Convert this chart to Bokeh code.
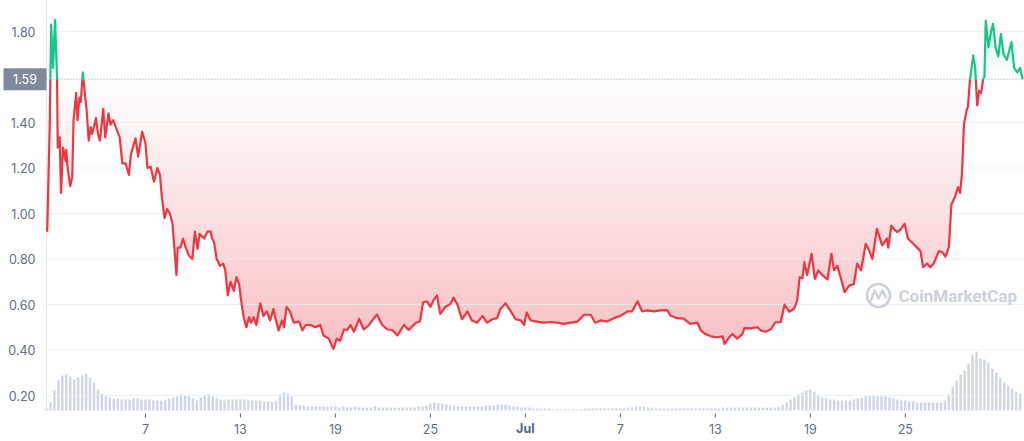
import numpy as np
import pandas as pd
from bokeh.plotting import figure
from bokeh.models import Range1d, Label
from bokeh.core.properties import value
from bokeh.embed import file_html
from bokeh.resources import INLINE

# ---------------- data ----------------
START = "2021-05-31 18:00"

price_hours = [
    1, 5, 7, 10, 13, 16, 17, 20, 22, 25, 29, 30, 32, 36, 39, 41, 45, 47, 50, 52,
    55, 58, 61, 64, 67, 69, 72, 75, 78, 81, 86, 89, 94, 97, 101, 105, 111, 115, 120, 125,
    128, 135, 139, 145, 150, 153, 158, 163, 168, 172, 175, 179, 183, 187, 191, 194, 197, 199, 203, 207,
    211, 216, 221, 225, 229, 232, 239, 244, 249, 251, 254, 258, 263, 268, 271, 275, 279, 284, 288, 292,
    296, 299, 303, 307, 310, 314, 318, 324, 329, 334, 339, 344, 347, 352, 357, 360, 364, 369, 375, 383,
    388, 393, 400, 408, 415, 420, 428, 435, 440, 445, 451, 456, 461, 466, 474, 481, 489, 494, 501, 509,
    517, 524, 532, 542, 549, 560, 566, 571, 577, 582, 587, 592, 597, 605, 613, 617, 623, 630, 638, 645,
    653, 661, 668, 676, 683, 688, 696, 704, 711, 719, 724, 728, 734, 744, 754, 764, 774, 784, 795, 805,
    815, 825, 832, 840, 850, 860, 870, 881, 888, 896, 903, 911, 921, 931, 941, 946, 956, 966, 976, 987,
    992, 999, 1007, 1017, 1025, 1028, 1035, 1040, 1047, 1055, 1058, 1067, 1078, 1083, 1090, 1098, 1105, 1113, 1119, 1126,
    1133, 1138, 1142, 1146, 1149, 1153, 1160, 1165, 1170, 1176, 1184, 1190, 1194, 1199, 1204, 1210, 1217, 1224, 1229, 1235,
    1242, 1247, 1252, 1259, 1267, 1274, 1276, 1281, 1285, 1290, 1295, 1301, 1306, 1313, 1320, 1325, 1329, 1335, 1340, 1345,
    1353, 1358, 1363, 1368, 1372, 1377, 1382, 1385, 1388, 1391, 1395, 1397, 1400, 1402, 1405, 1408, 1411, 1414, 1417, 1420,
    1422, 1424, 1428, 1432, 1435, 1439, 1443, 1447, 1451, 1456, 1463, 1467, 1472, 1476, 1480,
]

price_values = [
    0.92, 1.40, 1.83, 1.64, 1.85, 1.60, 1.29, 1.335, 1.09, 1.29, 1.23, 1.28, 1.20, 1.12, 1.16, 1.41, 1.53, 1.41, 1.51, 1.49,
    1.62, 1.53, 1.45, 1.32, 1.38, 1.35, 1.38, 1.42, 1.35, 1.32, 1.46, 1.335, 1.44, 1.39, 1.41, 1.38, 1.335, 1.22, 1.22, 1.17,
    1.26, 1.33, 1.25, 1.36, 1.31, 1.20, 1.205, 1.14, 1.20, 1.17, 1.07, 0.98, 1.02, 1.00, 0.955, 0.845, 0.73, 0.85, 0.85, 0.89,
    0.85, 0.815, 0.80, 0.92, 0.845, 0.91, 0.89, 0.92, 0.92, 0.89, 0.875, 0.80, 0.77, 0.78, 0.75, 0.64, 0.70, 0.66, 0.72, 0.69,
    0.60, 0.544, 0.50, 0.544, 0.52, 0.544, 0.51, 0.605, 0.55, 0.57, 0.53, 0.58, 0.54, 0.486, 0.53, 0.50, 0.59, 0.57, 0.52, 0.525,
    0.486, 0.51, 0.51, 0.50, 0.51, 0.464, 0.45, 0.405, 0.45, 0.44, 0.49, 0.488, 0.51, 0.48, 0.537, 0.49, 0.51, 0.53, 0.556, 0.51,
    0.49, 0.488, 0.464, 0.51, 0.488, 0.52, 0.525, 0.61, 0.614, 0.59, 0.62, 0.64, 0.559, 0.59, 0.604, 0.63, 0.60, 0.535, 0.57, 0.53,
    0.52, 0.55, 0.52, 0.535, 0.54, 0.58, 0.605, 0.57, 0.535, 0.53, 0.51, 0.565, 0.53, 0.525, 0.52, 0.523, 0.52, 0.515, 0.52, 0.525,
    0.555, 0.555, 0.52, 0.53, 0.525, 0.54, 0.55, 0.57, 0.57, 0.614, 0.57, 0.574, 0.57, 0.574, 0.575, 0.552, 0.54, 0.538, 0.515, 0.52,
    0.486, 0.47, 0.46, 0.456, 0.46, 0.427, 0.456, 0.47, 0.45, 0.47, 0.496, 0.495, 0.50, 0.486, 0.48, 0.49, 0.522, 0.522, 0.60, 0.568,
    0.58, 0.617, 0.72, 0.715, 0.786, 0.73, 0.823, 0.713, 0.75, 0.73, 0.71, 0.823, 0.75, 0.77, 0.72, 0.654, 0.683, 0.69, 0.78, 0.75,
    0.867, 0.84, 0.80, 0.933, 0.86, 0.89, 0.85, 0.947, 0.93, 0.918, 0.93, 0.955, 0.89, 0.87, 0.85, 0.835, 0.764, 0.78, 0.764, 0.78,
    0.835, 0.83, 0.81, 0.852, 1.04, 1.07, 1.116, 1.09, 1.175, 1.394, 1.453, 1.47, 1.585, 1.629, 1.695, 1.64, 1.475, 1.54, 1.53, 1.59,
    1.60, 1.848, 1.73, 1.80, 1.834, 1.73, 1.69, 1.79, 1.70, 1.675, 1.753, 1.64, 1.62, 1.64, 1.59,
]

# 6-hourly volume bars (millions USD), first bar at START
VOLUME_STEP_H = 6
volume_values = [
    2, 8, 20, 30, 35, 36, 34, 31, 33, 35,
    37, 33, 28, 21, 17, 14, 13, 12, 12, 11,
    11, 11, 12, 12, 11, 11, 11, 10, 10, 10,
    11, 12, 13, 14, 16, 15, 14, 12, 10, 13,
    15, 16, 14, 12, 11, 10, 11, 11, 11, 11,
    11, 10, 10, 10, 10, 9, 9, 9, 10, 16,
    18, 17, 14, 6, 5, 5, 4, 4, 4, 4,
    4, 4, 4, 4, 3, 4, 3, 3, 4, 3,
    3, 3, 3, 4, 3, 3, 3, 3, 3, 3,
    3, 3, 3, 3, 4, 4, 5, 7, 8, 7,
    7, 6, 5, 5, 4, 4, 4, 4, 4, 4,
    4, 5, 5, 5, 6, 6, 6, 5, 4, 4,
    3, 3, 3, 2, 2, 2, 2, 2, 1, 1,
    1, 1, 1, 1, 1, 1, 2, 2, 2, 2,
    2, 2, 2, 2, 2, 2, 2, 3, 3, 4,
    4, 4, 3, 3, 2, 2, 2, 2, 2, 2,
    2, 2, 2, 2, 2, 2, 2, 2, 2, 2,
    2, 3, 3, 3, 3, 3, 3, 3, 3, 3,
    3, 3, 3, 3, 3, 4, 6, 8, 11, 13,
    16, 18, 20, 21, 19, 15, 13, 12, 11, 11,
    10, 10, 10, 10, 11, 12, 13, 15, 15, 15,
    14, 14, 14, 13, 12, 11, 10, 10, 9, 9,
    8, 8, 8, 8, 8, 8, 8, 10, 16, 24,
    30, 36, 40, 47, 56, 59, 52, 51, 48, 42,
    38, 33, 28, 25, 22, 19, 17,
]

baseline_price = 1.59
tick_dates = ["2021-06-07", "2021-06-13", "2021-06-19", "2021-06-25", "2021-07-01",
              "2021-07-07", "2021-07-13", "2021-07-19", "2021-07-25"]
tick_labels = ["7", "13", "19", "25", "Jul", "7", "13", "19", "25"]
y_ticks = [0.2, 0.4, 0.6, 0.8, 1.0, 1.2, 1.4, 1.8]
y_tick_labels = ["0.20", "0.40", "0.60", "0.80", "1.00", "1.20", "1.40", "1.80"]

# ---------------- layout constants ----------------
W, H = 1024, 441            # canvas (frame covers the whole canvas)
AXIS_X = 46                 # px from canvas left where the price axis sits
PX_PER_H = 15.83 / 24       # horizontal scale
VOL_BASE = 31               # px from canvas bottom where volume bars start
PX_PER_UNIT = 227.5         # vertical scale (px per 1.00 of price)
Y_TOP_PX = 31               # 1.80 grid line, px from top
Y_LO = 1.80 - (H - Y_TOP_PX) / PX_PER_UNIT
Y_HI = 1.80 + Y_TOP_PX / PX_PER_UNIT

HOUR_MS = 3600 * 1000.0
start_ms = pd.Timestamp(START).value / 1e6
x_lo = start_ms - AXIS_X / PX_PER_H * HOUR_MS
x_hi = start_ms + (W - AXIS_X) / PX_PER_H * HOUR_MS
data_end = start_ms + max(price_hours) * HOUR_MS


def to_ms(hours):
    return start_ms + np.asarray(hours, dtype=float) * HOUR_MS


def mix(hex_color, a):
    r, g, b = (int(hex_color[i:i + 2], 16) for i in (1, 3, 5))
    return "#%02x%02x%02x" % tuple(round(255 - a * (255 - c)) for c in (r, g, b))


px = to_ms(price_hours)
py = np.asarray(price_values, dtype=float)

# split the price line into runs above / below the baseline (with crossing points)
runs = []
cx, cy = [px[0]], [py[0]]
cur_above = py[0] >= baseline_price
ext_x, ext_y = [px[0]], [py[0]]
for i in range(1, len(px)):
    x0, y0, x1, y1 = px[i - 1], py[i - 1], px[i], py[i]
    above = y1 >= baseline_price
    if above != cur_above:
        t = (baseline_price - y0) / (y1 - y0)
        xc = x0 + t * (x1 - x0)
        cx.append(xc); cy.append(baseline_price)
        runs.append((cx, cy, cur_above))
        ext_x.append(xc); ext_y.append(baseline_price)
        cx, cy = [xc], [baseline_price]
        cur_above = above
    cx.append(x1); cy.append(y1)
    ext_x.append(x1); ext_y.append(y1)
runs.append((cx, cy, cur_above))
ext_x = np.array(ext_x)
ext_y = np.array(ext_y)

RED = "#ea3943"
GREEN = "#16c784"
LABEL = "#616e85"
FONT = "Inter"

p = figure(width=W, height=H, x_range=Range1d(x_lo, x_hi), y_range=Range1d(Y_LO, Y_HI),
           output_backend="svg", toolbar_location=None, min_border=0)
p.extra_y_ranges = {"vol": Range1d(-VOL_BASE, H - VOL_BASE), "py": Range1d(0, H)}
p.extra_x_ranges = {"px": Range1d(0, W)}
p.axis.visible = False
p.grid.visible = False
p.outline_line_color = None
p.background_fill_color = "white"
p.border_fill_color = "white"

# volume bars
vx = to_ms(np.arange(len(volume_values)) * VOLUME_STEP_H)
p.vbar(x=vx, top=volume_values, bottom=0, width=VOLUME_STEP_H * HOUR_MS * 0.62,
       y_range_name="vol", fill_color="#cfd6e4", line_color=None)

# gradient fill between the line and the baseline (opaque nested layers)
STEP = 0.015
red_levels = np.arange(baseline_price - STEP, 0.30, -STEP)
for L in red_levels:
    a = 0.31 * (baseline_price - L) / (baseline_price - 0.45)
    p.varea(x=ext_x, y1=np.minimum(ext_y, L), y2=np.full_like(ext_y, L),
            fill_color=mix(RED, min(a, 0.35)), fill_alpha=1.0)
green_levels = np.arange(baseline_price + STEP, Y_HI, STEP)
for L in green_levels:
    a = 0.18 * (L - baseline_price) / (1.85 - baseline_price)
    p.varea(x=ext_x, y1=np.full_like(ext_y, L), y2=np.maximum(ext_y, L),
            fill_color=mix(GREEN, a), fill_alpha=1.0)

# horizontal grid lines and the price axis line
p.segment(x0=[start_ms] * len(y_ticks), x1=[x_hi] * len(y_ticks), y0=y_ticks, y1=y_ticks,
          line_color="#e9edf1", line_width=1, line_alpha=0.8)
p.segment(x0=[start_ms], x1=[start_ms], y0=[0], y1=[H], y_range_name="vol",
          line_color="#e6e9ee", line_width=1)

# baseline dotted line
p.segment(x0=[start_ms], x1=[x_hi], y0=[baseline_price], y1=[baseline_price],
          line_color="#9ea5b4", line_width=1, line_dash="1 2")

# price line
red_xs = [r[0] for r in runs if not r[2]]
red_ys = [r[1] for r in runs if not r[2]]
green_xs = [r[0] for r in runs if r[2]]
green_ys = [r[1] for r in runs if r[2]]
p.multi_line(xs=red_xs, ys=red_ys, line_color=RED, line_width=2.2, line_join="round")
p.multi_line(xs=green_xs, ys=green_ys, line_color=GREEN, line_width=2.2, line_join="round")

# y tick labels
p.text(x=[AXIS_X - 11] * len(y_ticks), y=y_ticks, text=y_tick_labels, x_range_name="px",
       text_align="right", text_baseline="middle", text_font=value(FONT),
       text_font_size="12.5px", text_color=LABEL)

# x ticks and labels
tick_ms = [pd.Timestamp(d).value / 1e6 for d in tick_dates]
p.segment(x0=tick_ms, x1=tick_ms, y0=[24] * len(tick_ms), y1=[28] * len(tick_ms),
          y_range_name="py", line_color="#58667e", line_width=1)
num_idx = [i for i, s in enumerate(tick_labels) if s.isdigit()]
mon_idx = [i for i, s in enumerate(tick_labels) if not s.isdigit()]
p.text(x=[tick_ms[i] for i in num_idx], y=[13] * len(num_idx), text=[tick_labels[i] for i in num_idx],
       y_range_name="py", text_align="center", text_baseline="middle", text_font=value(FONT),
       text_font_size="12.5px", text_color=LABEL)
p.text(x=[tick_ms[i] for i in mon_idx], y=[13] * len(mon_idx), text=[tick_labels[i] for i in mon_idx],
       y_range_name="py", text_align="center", text_baseline="middle", text_font=value(FONT),
       text_font_size="12.5px", text_font_style="bold", text_color="#58667e")

# current price tag
TAG_HALF = 11 / PX_PER_UNIT
p.quad(left=[3], right=[AXIS_X], bottom=[baseline_price - TAG_HALF], top=[baseline_price + TAG_HALF],
       x_range_name="px", fill_color="#808a9d", line_color=None)
p.text(x=[(3 + AXIS_X) / 2], y=[baseline_price], text=[f"{baseline_price:.2f}"], x_range_name="px",
       text_align="center", text_baseline="middle", text_font=value(FONT),
       text_font_size="12.5px", text_color="white")

# watermark
p.scatter(x=[878], y=[146], size=23, marker="circle", fill_color=None,
          line_color="#cdd2da", line_width=2.6, x_range_name="px", y_range_name="py")
p.line(x=[870, 874, 878, 882, 886], y=[140, 151, 143, 151, 143], line_color="#cdd2da",
       line_width=2.4, line_join="round", x_range_name="px", y_range_name="py")
p.add_layout(Label(x=898, y=146, x_range_name="px", y_range_name="py", text="CoinMarketCap",
                   text_color="#cdd2da", text_font="Roboto", text_font_size="17px",
                   text_font_style="bold", text_baseline="middle", text_align="left"))

open("out.html", "w").write(file_html(p, INLINE))
